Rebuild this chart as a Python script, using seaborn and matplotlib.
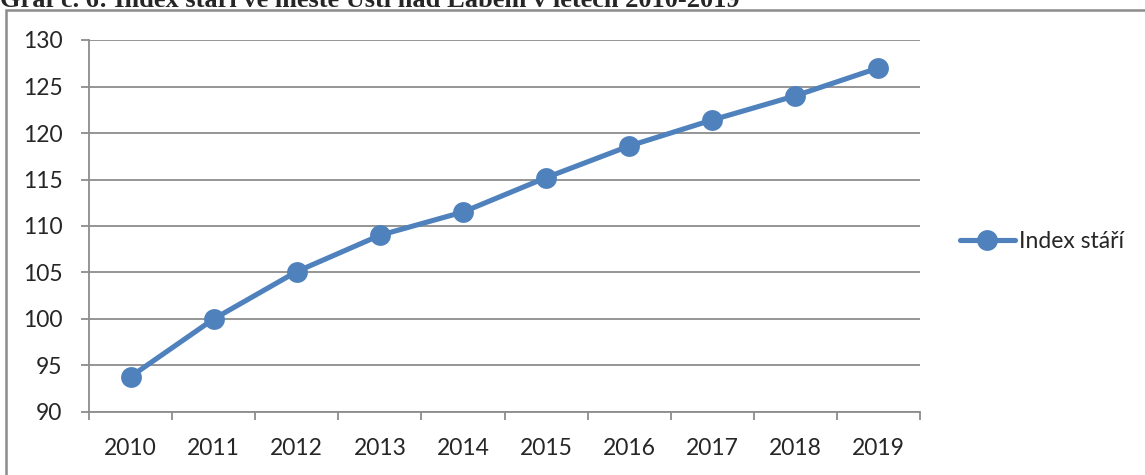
import pandas as pd
import seaborn as sns
import matplotlib.pyplot as plt
from matplotlib.patches import Rectangle

# Data
years = ['2010', '2011', '2012', '2013', '2014', '2015', '2016', '2017', '2018', '2019']
index_stari = [93.8, 100.0, 105.1, 109.0, 111.5, 115.2, 118.6, 121.4, 124.0, 127.0]
series_name = 'Index stáří'
title = 'Graf č. 6: Index stáří ve městě Ústí nad Labem v letech 2010-2019'

df = pd.DataFrame({'Rok': years, series_name: index_stari})

sns.set_style('white')
plt.rcParams['font.family'] = ['Lato', 'DejaVu Sans']

blue = '#4F81BD'
grey = '#8C8C8C'

fig = plt.figure(figsize=(11.45, 4.75), dpi=100)
ax = fig.add_axes([89 / 1145, 1 - 412 / 475, (920 - 89) / 1145, (412 - 40) / 475])

sns.lineplot(data=df, x='Rok', y=series_name, ax=ax, color=blue, linewidth=3.7,
             marker='o', markersize=15, markeredgewidth=0, label=series_name, sort=False)

# Axes, grid and ticks in the spreadsheet style
ax.set_xlim(-0.5, len(years) - 0.5)
ax.set_ylim(90, 130)
ax.set_yticks(range(90, 131, 5))
ax.set_xlabel('')
ax.set_ylabel('')
ax.grid(axis='y', color=grey, linewidth=1.3)
ax.set_axisbelow(True)
for side in ['top', 'right']:
    ax.spines[side].set_visible(False)
for side in ['left', 'bottom']:
    ax.spines[side].set_color(grey)
    ax.spines[side].set_linewidth(1.3)

ax.set_xticks([i - 0.5 for i in range(len(years) + 1)], minor=True)
ax.tick_params(axis='x', which='major', length=0, pad=19, labelsize=16.5)
ax.tick_params(axis='x', which='minor', length=6, width=1.3, color=grey, direction='out', bottom=True)
ax.tick_params(axis='y', which='major', length=6, width=1.3, color=grey, direction='out',
               pad=13, labelsize=16.5, left=True)

leg = ax.legend(loc='center left', bbox_to_anchor=(1.048, 0.457), frameon=False,
                fontsize=16.5, handlelength=2.4, handletextpad=0.2, borderaxespad=0,
                borderpad=0)

# Chart box border (cropped at the right and bottom)
fig.patches.append(Rectangle((6 / 1145, -0.1), 1.2, 1 - 10 / 475 + 0.1, transform=fig.transFigure,
                             fill=False, edgecolor=grey, linewidth=1.8))

# Caption above the chart, partly cut off by the image edge as in the original
fig.text(0.0, 1 - 7 / 475, title, fontsize=19, fontweight='bold',
         family=['Liberation Serif', 'DejaVu Serif'], ha='left', va='baseline')

fig.savefig('out.png', dpi=100)
